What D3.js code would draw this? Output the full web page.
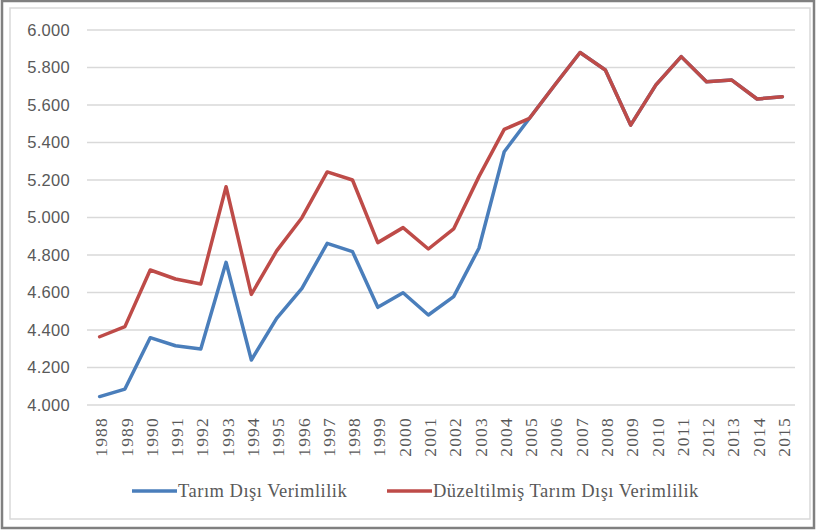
<!DOCTYPE html>
<html>
<head>
<meta charset="utf-8">
<script src="https://cdn.jsdelivr.net/npm/d3@7"></script>
<style>
  body { margin: 0; background: #fff; }
  svg { display: block; }
</style>
</head>
<body>
<div id="chart"></div>
<script>
// yıllar ve seriler
const years = d3.range(1988, 2016).map(String)
const tarimDisi = [4045, 4085, 4359, 4316, 4299, 4761, 4240, 4462, 4622, 4862, 4818, 4521, 4599, 4480, 4578, 4836, 5351, 5529,
  5707, 5880, 5787, 5493, 5707, 5858, 5724, 5733, 5632, 5644]
const duzeltilmis = [4364, 4418, 4720, 4672, 4645, 5164, 4590, 4822, 4999, 5243, 5200, 4866, 4946, 4832, 4939, 5218, 5470, 5529,
  5707, 5880, 5787, 5493, 5707, 5858, 5724, 5733, 5632, 5644]
const seriesNames = ['Tarım Dışı Verimlilik', 'Düzeltilmiş Tarım Dışı Verimlilik']
const yTicks = [4000, 4200, 4400, 4600, 4800, 5000, 5200, 5400, 5600, 5800, 6000]

const W = 816
const H = 530
const plot = { left: 87, right: 795, top: 30, bottom: 405 }
const colors = ['#4a7ebb', '#be4b48']

const svg = d3.select('#chart')
  .append('svg')
  .attr('width', W)
  .attr('height', H)

// çerçeveler
svg.append('rect')
  .attr('x', 2).attr('y', 1)
  .attr('width', 812).attr('height', 527)
  .attr('fill', '#fff')
  .attr('stroke', '#808080')
  .attr('stroke-width', 2.5)

svg.append('rect')
  .attr('x', 10).attr('y', 8)
  .attr('width', 800).attr('height', 511)
  .attr('fill', 'none')
  .attr('stroke', '#d9d9d9')
  .attr('stroke-width', 1.5)

const x = d3.scalePoint()
  .domain(years)
  .range([plot.left, plot.right])
  .padding(0.5)

const y = d3.scaleLinear()
  .domain([4000, 6000])
  .range([plot.bottom, plot.top])

const tr = d3.formatLocale({ decimal: ',', thousands: '.', grouping: [3], currency: ['', ''] })
const fmt = tr.format(',.0f')

// yatay kılavuz çizgileri
svg.append('g')
  .selectAll('line')
  .data(yTicks)
  .enter()
  .append('line')
  .attr('x1', plot.left)
  .attr('x2', plot.right)
  .attr('y1', d => y(d))
  .attr('y2', d => y(d))
  .attr('stroke', '#d9d9d9')
  .attr('stroke-width', 1.5)

// y ekseni
const yAxis = svg.append('g')
  .attr('transform', `translate(${plot.left - 17},0)`)
  .call(d3.axisLeft(y).tickValues(yTicks).tickFormat(fmt).tickSize(0).tickPadding(0))
yAxis.select('.domain').remove()
yAxis.selectAll('text')
  .style('font-family', '"Liberation Sans", Arial, sans-serif')
  .style('font-size', '16.5px')
  .style('letter-spacing', '0.3px')
  .attr('fill', '#595959')

// x ekseni
const xAxis = svg.append('g')
  .attr('transform', `translate(0,${plot.bottom})`)
  .call(d3.axisBottom(x).tickSize(0).tickPadding(0))
xAxis.select('.domain').remove()
xAxis.selectAll('text')
  .attr('transform', 'rotate(-90)')
  .attr('x', -12)
  .attr('y', 1)
  .attr('dy', '0.35em')
  .attr('text-anchor', 'end')
  .style('font-family', '"Liberation Serif", "DejaVu Serif", serif')
  .style('font-size', '17.5px')
  .style('letter-spacing', '1.2px')
  .attr('fill', '#595959')

// çizgiler
const line = d3.line()
  .x((d, i) => x(years[i]))
  .y(d => y(d))

;[tarimDisi, duzeltilmis].forEach((s, i) => {
  svg.append('path')
    .datum(s)
    .attr('d', line)
    .attr('fill', 'none')
    .attr('stroke', colors[i])
    .attr('stroke-width', 3.5)
    .attr('stroke-linejoin', 'round')
    .attr('stroke-linecap', 'round')
})

// lejant
const legendX = [132, 387]
seriesNames.forEach((name, i) => {
  const g = svg.append('g')
    .attr('transform', `translate(${legendX[i]}, 491)`)
  g.append('line')
    .attr('x1', 0).attr('x2', 45)
    .attr('stroke', colors[i])
    .attr('stroke-width', 3.5)
  g.append('text')
    .attr('x', 46)
    .attr('dy', '0.35em')
    .style('font-family', '"Liberation Serif", "DejaVu Serif", serif')
    .style('font-size', '18.5px')
    .style('letter-spacing', '0.5px')
    .attr('fill', '#595959')
    .text(name)
})
</script>
</body>
</html>
